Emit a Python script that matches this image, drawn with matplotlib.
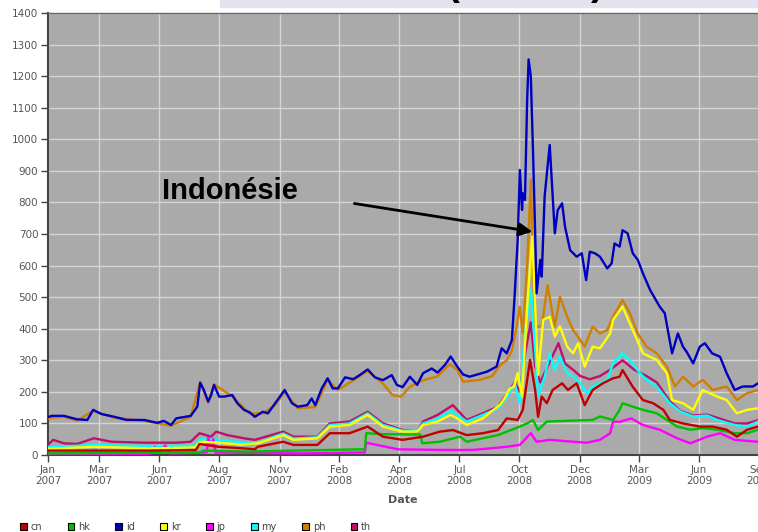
import matplotlib
matplotlib.use('Agg')
import numpy as np
import matplotlib.pyplot as plt
from matplotlib.patches import Patch, Rectangle

plt.rcParams['font.family'] = ['DejaVu Sans']

# x values: days since 2007-01-01, y values: spreads
cn_day = [0, 140, 203, 208, 234, 269, 284, 288, 323, 337, 370, 387, 414, 439, 460, 487, 515, 538, 556, 575,
          597, 618, 630, 645, 652, 662, 669, 673, 678, 685, 693, 706, 714, 726, 737, 748, 762, 776, 785, 789,
          803, 817, 831, 845, 854, 872, 895, 913, 932, 946, 960, 975, 991]
cn_val = [14, 14, 16, 35, 26, 21, 18, 26, 42, 32, 32, 69, 69, 90, 58, 48, 58, 74, 79, 63,
          69, 79, 116, 111, 143, 301, 206, 121, 185, 164, 206, 227, 206, 227, 158, 206, 227, 243, 248, 269,
          216, 174, 164, 143, 111, 100, 90, 90, 80, 58, 80, 90, 92]

hk_day = [0, 209, 213, 275, 384, 428, 435, 437, 460, 511, 514, 538, 566, 575, 597, 618, 630, 648, 658, 666,
          673, 685, 721, 748, 758, 776, 785, 789, 803, 817, 836, 850, 864, 882, 899, 919, 943, 960, 975, 991]
hk_val = [5, 8, 14, 11, 16, 18, 18, 69, 66, 65, 37, 42, 58, 42, 53, 63, 74, 90, 100, 111,
          79, 106, 109, 111, 122, 111, 143, 164, 153, 143, 132, 111, 90, 80, 85, 80, 69, 69, 80, 80]

id_day = [0, 5, 22, 40, 54, 62, 73, 91, 108, 132, 150, 159, 169, 176, 196, 205, 209, 214, 220, 224,
          228, 235, 242, 253, 260, 269, 277, 284, 295, 302, 312, 325, 335, 343, 356, 362, 367, 376, 384, 391,
          398, 408, 419, 428, 439, 449, 460, 472, 479, 487, 497, 507, 515, 527, 535, 545, 553, 562, 570, 579,
          603, 616, 623, 630, 637, 641, 645, 648, 651, 652, 655, 658, 660, 663, 666, 669, 671, 676, 678, 682,
          689, 696, 700, 706, 710, 717, 726, 733, 739, 744, 751, 758, 768, 774, 778, 785, 789, 796, 803, 810,
          817, 827, 840, 847, 857, 865, 872, 877, 886, 895, 902, 912, 923, 932, 943, 954, 968, 975, 991]
id_val = [120, 124, 124, 113, 111, 143, 130, 121, 111, 111, 102, 108, 95, 116, 124, 153, 229, 206, 169, 190,
          222, 185, 185, 190, 164, 143, 135, 121, 137, 132, 164, 206, 164, 153, 158, 179, 158, 211, 243, 211,
          211, 246, 240, 253, 271, 246, 237, 253, 222, 215, 248, 222, 259, 274, 261, 285, 312, 280, 255, 248,
          264, 280, 338, 322, 364, 512, 681, 903, 776, 829, 808, 1124, 1253, 1200, 966, 702, 512, 618, 565, 819,
          982, 702, 776, 797, 723, 649, 628, 639, 554, 644, 639, 628, 591, 607, 670, 660, 712, 702, 639, 618,
          575, 522, 470, 449, 322, 385, 343, 327, 290, 343, 354, 322, 311, 259, 206, 217, 217, 227, 232]

kr_day = [0, 64, 140, 202, 209, 234, 265, 288, 323, 337, 370, 387, 414, 439, 460, 487, 507, 515, 535, 553,
          562, 575, 597, 621, 627, 634, 640, 645, 651, 658, 662, 665, 669, 673, 680, 689, 696, 703, 713, 721,
          728, 737, 748, 758, 772, 776, 789, 803, 817, 836, 850, 857, 872, 886, 899, 919, 932, 946, 960, 975, 991]
kr_val = [20, 26, 21, 24, 42, 39, 33, 37, 63, 48, 53, 90, 95, 127, 90, 74, 74, 95, 106, 127,
          116, 95, 116, 160, 180, 210, 217, 259, 185, 470, 600, 692, 470, 254, 428, 438, 375, 407, 343, 322,
          354, 280, 343, 338, 385, 428, 470, 396, 322, 301, 259, 174, 164, 143, 206, 185, 174, 132, 143, 148, 150]

jp_day = [0, 140, 147, 151, 161, 168, 218, 220, 224, 227, 230, 350, 428, 435, 437, 481, 538, 583, 630, 648,
          663, 671, 689, 721, 740, 758, 772, 776, 785, 801, 817, 840, 864, 882, 905, 923, 943, 975, 991]
jp_val = [3, 4, 25, 5, 30, 5, 8, 55, 30, 50, 8, 5, 8, 8, 39, 18, 16, 16, 26, 32,
          69, 42, 48, 42, 39, 48, 69, 106, 105, 116, 95, 80, 53, 37, 58, 69, 48, 42, 42]

my_day = [0, 64, 140, 202, 209, 234, 265, 288, 323, 337, 370, 387, 414, 439, 460, 487, 507, 515, 535, 553,
          562, 575, 597, 618, 634, 641, 648, 655, 663, 669, 673, 682, 689, 696, 703, 713, 721, 731, 740, 748,
          758, 768, 776, 789, 799, 813, 822, 836, 854, 868, 886, 905, 919, 943, 960, 975, 991]
my_val = [25, 32, 28, 30, 50, 48, 40, 38, 68, 52, 56, 95, 100, 132, 95, 77, 76, 100, 115, 140,
          127, 106, 127, 148, 196, 227, 164, 385, 523, 333, 185, 248, 322, 269, 312, 259, 248, 227, 196, 217,
          227, 238, 290, 322, 301, 259, 238, 217, 164, 138, 122, 125, 111, 95, 90, 106, 105]

ph_day = [0, 22, 40, 62, 91, 132, 169, 196, 209, 220, 228, 253, 277, 295, 312, 325, 343, 367, 384, 398,
          419, 439, 460, 473, 485, 497, 515, 534, 552, 562, 570, 593, 610, 621, 630, 637, 643, 648, 652, 658,
          663, 666, 669, 678, 686, 696, 703, 713, 721, 731, 737, 748, 758, 768, 776, 789, 799, 810, 822, 836,
          850, 861, 872, 886, 899, 913, 932, 946, 960, 975, 991]
ph_val = [117, 121, 109, 140, 118, 108, 93, 121, 232, 166, 224, 186, 131, 132, 158, 200, 148, 152, 238, 206,
          236, 266, 226, 190, 185, 216, 237, 248, 288, 269, 232, 238, 250, 285, 300, 330, 400, 470, 385, 600,
          871, 597, 407, 407, 538, 407, 501, 438, 396, 364, 343, 407, 385, 396, 438, 491, 449, 385, 343, 322,
          280, 217, 248, 217, 238, 206, 217, 174, 196, 206, 200]

th_day = [0, 7, 22, 40, 63, 87, 132, 177, 196, 208, 224, 231, 246, 269, 284, 323, 337, 370, 387, 414,
          439, 460, 487, 507, 515, 535, 556, 575, 597, 618, 634, 641, 648, 655, 663, 669, 676, 686, 701, 710,
          721, 731, 744, 758, 772, 789, 805, 822, 836, 854, 868, 886, 905, 923, 943, 960, 975, 991]
th_val = [32, 48, 37, 35, 53, 42, 39, 39, 42, 69, 58, 74, 63, 53, 48, 74, 58, 58, 100, 106,
          137, 100, 79, 74, 106, 127, 158, 111, 132, 153, 206, 230, 200, 320, 420, 280, 230, 280, 354, 290,
          270, 250, 240, 250, 270, 300, 270, 250, 230, 170, 140, 125, 128, 115, 100, 100, 110, 110]

names = ['cn', 'hk', 'id', 'kr', 'jp', 'my', 'ph', 'th']
colors = ['#c00000', '#00c000', '#0000c0', '#ffff00', '#ff00ff', '#00ffff', '#d08000', '#c0106a']

tick_days = [0, 70, 153, 235, 318, 400, 482, 565, 647, 730, 812, 894, 977]
tick_labels = ['Jan\n2007', 'Mar\n2007', 'Jun\n2007', 'Aug\n2007', 'Nov\n2007', 'Feb\n2008', 'Apr\n2008',
               'Jul\n2008', 'Oct\n2008', 'Dec\n2008', 'Mar\n2009', 'Jun\n2009', 'Sep\n2009']
y_ticks = list(range(0, 1401, 100))

W, H = 758, 532
fig = plt.figure(figsize=(W / 100, H / 100), dpi=100)
fig.patches.append(Rectangle((220 / W, 1 - 7 / H), 1, 7 / H, transform=fig.transFigure,
                             color='#e6e1ee', zorder=-2))
# title is cut off at the top edge in the reference: only the parentheses show
fig.text(453 / W, 1 + 5 / H, '(', fontsize=28, fontweight='bold', family='Liberation Sans',
         ha='center', va='baseline')
fig.text(597 / W, 1 + 5 / H, ')', fontsize=28, fontweight='bold', family='Liberation Sans',
         ha='center', va='baseline')

ax = fig.add_axes([48 / W, 77 / H, 718 / W, 442 / H])
ax.set_facecolor('#aaaaaa')

series = [(cn_day, cn_val), (hk_day, hk_val), (id_day, id_val), (kr_day, kr_val),
          (jp_day, jp_val), (my_day, my_val), (ph_day, ph_val), (th_day, th_val)]
for i, (d, v) in enumerate(series):
    ax.plot(np.array(d), np.array(v), color=colors[i], lw=1.7, zorder=12 - i, solid_joinstyle='round')

ax.set_xlim(0, 986)
ax.set_ylim(0, 1400)
ax.set_xticks(tick_days)
ax.set_xticklabels(tick_labels)
ax.set_yticks(y_ticks)
ax.grid(True, color='#d4d4d4', lw=1)
ax.set_axisbelow(True)
ax.tick_params(direction='out', length=5, width=1, color='#444444', labelcolor='#555555',
               labelsize=7.5, pad=2)
for side in ['left', 'bottom']:
    ax.spines[side].set_color('#444444')
    ax.spines[side].set_linewidth(1.5)
for side in ['top', 'right']:
    ax.spines[side].set_color('#666666')
    ax.spines[side].set_linewidth(1)

ax.set_xlabel('Date', fontsize=8, fontweight='bold', color='#555555')
ax.xaxis.set_label_coords(0.494, -0.09)

ax.annotate('', xy=(669, 706), xytext=(417, 798),
            arrowprops=dict(arrowstyle='-|>', color='black', lw=2, mutation_scale=20), zorder=20)
ax.text(156, 811, 'Indonésie', fontsize=21, fontweight='bold', family='Liberation Sans',
        va='baseline', zorder=20)

handles = [Patch(facecolor=c, edgecolor='black', linewidth=0.8) for c in colors]
fig.legend(handles, names, loc='center left', bbox_to_anchor=(20 / W, 1 - 527 / H), ncol=8,
           frameon=False, fontsize=7, handlelength=0.7, handleheight=0.7, handletextpad=0.4,
           columnspacing=2.6, borderaxespad=0, borderpad=0, labelcolor='#444444')

fig.savefig('out.png', dpi=100)
